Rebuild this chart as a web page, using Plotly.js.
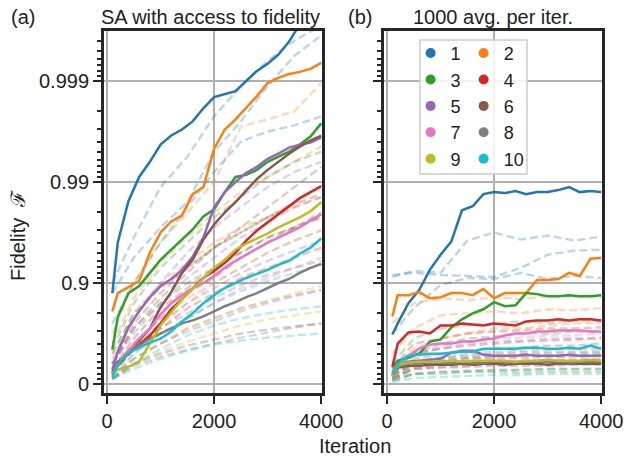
<!DOCTYPE html>
<html>
<head>
<meta charset="utf-8">
<script src="https://cdn.plot.ly/plotly-3.0.1.min.js"></script>
<style>html,body{margin:0;padding:0;background:#fff;}#chart{width:624px;height:459px;}</style>
</head>
<body>
<div id="chart"></div>
<script>
// y values are in "nines": -log10(1 - Fidelity)
const ITER = [100,200,400,600,800,1000,1200,1400,1600,1800,2000,2200,2400,2600,2800,3000,3200,3400,3600,3800,4000];
const ITER_D = [100,500,1000,1500,2000,2500,3000,3500,4000];
const LABELS = ['1','2','3','4','5','6','7','8','9','10'];
const COLORS = ['#1f77b4','#ff7f0e','#2ca02c','#d62728','#9467bd','#8c564b','#e377c2','#7f7f7f','#bcbd22','#17becf'];
const Y_TICKS = [0,1,2,3];
const Y_TICKTEXT = ['0','0.9','0.99','0.999'];
const X_TICKS = [0,2000,4000];

// Panel (a): SA with access to fidelity (best run per setting)
const A1 = [0.90,1.40,1.81,2.05,2.20,2.37,2.46,2.52,2.60,2.73,2.84,2.87,2.90,3.00,3.10,3.17,3.26,3.39,3.56,3.66,3.75];
const A2 = [0.72,0.90,0.96,1.02,1.30,1.50,1.61,1.67,1.88,1.95,2.33,2.52,2.62,2.73,2.85,2.98,3.03,3.07,3.09,3.12,3.18];
const A3 = [0.34,0.66,0.90,0.97,1.10,1.23,1.33,1.43,1.53,1.66,1.73,1.90,2.05,2.07,2.12,2.20,2.25,2.30,2.37,2.45,2.58];
const A4 = [0.12,0.22,0.30,0.39,0.48,0.60,0.74,0.84,0.95,1.05,1.12,1.20,1.30,1.42,1.52,1.60,1.68,1.76,1.84,1.90,1.96];
const A5 = [0.14,0.32,0.56,0.72,0.86,0.97,1.04,1.13,1.26,1.45,1.75,1.90,2.00,2.09,2.15,2.23,2.28,2.34,2.37,2.39,2.44];
const A6 = [0.11,0.20,0.33,0.43,0.55,0.76,0.91,1.10,1.23,1.43,1.58,1.70,1.80,1.92,2.03,2.12,2.20,2.28,2.35,2.41,2.46];
const A7 = [0.10,0.20,0.33,0.45,0.55,0.69,0.80,0.88,0.95,1.00,1.07,1.15,1.22,1.28,1.34,1.40,1.45,1.50,1.55,1.62,1.68];
const A8 = [0.10,0.18,0.30,0.38,0.45,0.50,0.55,0.60,0.63,0.67,0.72,0.77,0.81,0.86,0.90,0.95,1.00,1.04,1.10,1.15,1.19];
const A9 = [0.11,0.14,0.17,0.22,0.40,0.58,0.71,0.84,0.94,1.05,1.15,1.23,1.33,1.39,1.44,1.49,1.55,1.60,1.65,1.71,1.80];
const A10 = [0.07,0.20,0.31,0.36,0.41,0.45,0.52,0.62,0.70,0.80,0.88,0.95,1.00,1.05,1.09,1.13,1.18,1.22,1.29,1.35,1.44];

// Panel (a): other runs (dashed)
const AD1 = [[1.00,1.45,1.95,2.25,2.65,2.95,3.20,3.40,3.55],[0.90,1.25,1.55,1.80,2.30,2.60,2.95,3.25,3.45],[0.60,1.00,1.40,1.75,2.10,2.40,2.50,2.56,2.65]];
const AD2 = [[0.50,1.00,1.40,1.70,2.00,2.55,2.62,2.70,2.98],[0.40,0.85,1.20,1.45,1.70,1.90,2.05,2.20,2.35],[0.30,0.70,1.00,1.20,1.40,1.55,1.65,1.75,1.85]];
const AD3 = [[0.35,0.80,1.15,1.40,1.65,1.85,2.05,2.20,2.30],[0.30,0.70,0.95,1.15,1.35,1.50,1.65,1.80,1.95],[0.20,0.55,0.80,1.00,1.15,1.30,1.45,1.55,1.65]];
const AD4 = [[0.20,0.60,0.90,1.15,1.35,1.50,1.65,1.78,1.88],[0.15,0.45,0.75,0.95,1.15,1.30,1.45,1.55,1.65],[0.10,0.35,0.55,0.75,0.90,1.05,1.15,1.25,1.35]];
const AD5 = [[0.25,0.65,1.00,1.30,1.55,1.75,1.95,2.10,2.20],[0.20,0.50,0.80,1.05,1.25,1.45,1.60,1.75,1.85],[0.10,0.35,0.60,0.80,0.95,1.10,1.22,1.32,1.42]];
const AD6 = [[0.20,0.55,0.85,1.10,1.35,1.55,1.75,1.95,2.15],[0.10,0.40,0.65,0.90,1.05,1.25,1.40,1.55,1.70],[0.05,0.20,0.30,0.38,0.44,0.50,0.54,0.57,0.60]];
const AD7 = [[0.10,0.40,0.65,0.85,1.00,1.15,1.30,1.42,1.52],[0.05,0.30,0.50,0.65,0.80,0.95,1.05,1.15,1.25],[0.05,0.25,0.40,0.55,0.65,0.75,0.82,0.88,0.93]];
const AD8 = [[0.10,0.35,0.55,0.70,0.85,0.98,1.08,1.15,1.22],[0.05,0.25,0.40,0.52,0.62,0.72,0.80,0.87,0.93],[0.05,0.18,0.27,0.34,0.40,0.46,0.51,0.56,0.60]];
const AD9 = [[0.10,0.35,0.60,0.80,1.00,1.15,1.30,1.42,1.52],[0.05,0.25,0.40,0.55,0.65,0.75,0.82,0.90,0.97],[0.05,0.20,0.32,0.42,0.50,0.58,0.64,0.68,0.72]];
const AD10 = [[0.05,0.30,0.50,0.65,0.80,0.92,1.02,1.10,1.18],[0.05,0.20,0.35,0.48,0.58,0.65,0.70,0.74,0.77],[0.05,0.15,0.25,0.33,0.39,0.43,0.46,0.48,0.50]];

// Panel (b): 1000 avg. per iter. (best run per setting)
const B1 = [0.49,0.60,0.80,0.93,1.13,1.28,1.41,1.72,1.76,1.88,1.90,1.89,1.91,1.88,1.90,1.90,1.92,1.95,1.90,1.91,1.90];
const B2 = [0.67,0.88,0.88,0.91,0.85,0.86,0.90,0.90,0.88,0.94,0.85,0.90,0.90,0.90,1.03,1.03,1.04,1.10,1.07,1.24,1.25];
const B3 = [0.17,0.23,0.26,0.30,0.42,0.44,0.56,0.64,0.70,0.74,0.81,0.77,0.78,0.90,0.89,0.87,0.87,0.88,0.87,0.87,0.88];
const B4 = [0.17,0.40,0.51,0.52,0.50,0.58,0.58,0.60,0.59,0.58,0.60,0.59,0.58,0.62,0.63,0.63,0.64,0.63,0.64,0.64,0.63];
const B5 = [0.10,0.18,0.22,0.23,0.24,0.25,0.31,0.33,0.33,0.29,0.28,0.28,0.28,0.29,0.28,0.28,0.28,0.29,0.28,0.28,0.28];
const B6 = [0.08,0.16,0.18,0.18,0.19,0.19,0.19,0.20,0.19,0.20,0.20,0.19,0.20,0.20,0.20,0.19,0.20,0.20,0.20,0.20,0.20];
const B7 = [0.12,0.20,0.28,0.35,0.39,0.40,0.40,0.42,0.42,0.44,0.45,0.48,0.50,0.50,0.52,0.52,0.53,0.53,0.53,0.52,0.52];
const B8 = [0.08,0.17,0.20,0.21,0.21,0.21,0.21,0.22,0.21,0.21,0.22,0.22,0.21,0.22,0.22,0.22,0.22,0.21,0.22,0.22,0.22];
const B9 = [0.08,0.19,0.21,0.22,0.22,0.22,0.23,0.22,0.23,0.23,0.23,0.23,0.22,0.23,0.23,0.24,0.23,0.23,0.23,0.24,0.23];
const B10 = [0.10,0.20,0.28,0.29,0.30,0.30,0.31,0.32,0.32,0.35,0.35,0.35,0.35,0.36,0.36,0.35,0.35,0.36,0.35,0.38,0.35];

// Panel (b): other runs (dashed)
const BD1 = [[1.06,1.12,1.10,1.42,1.50,1.43,1.47,1.42,1.46],[1.08,1.10,1.08,1.07,1.06,1.15,1.28,1.32,1.33],[0.50,0.75,0.98,1.05,1.04,1.10,1.04,1.07,1.05]];
const BD2 = [[0.60,0.80,0.85,0.83,0.86,0.84,0.87,0.86,0.86],[0.30,0.55,0.68,0.70,0.72,0.70,0.74,0.73,0.75],[0.15,0.35,0.45,0.50,0.55,0.55,0.58,0.60,0.60]];
const BD3 = [[0.20,0.45,0.55,0.58,0.60,0.62,0.60,0.63,0.62],[0.15,0.30,0.40,0.45,0.47,0.50,0.50,0.52,0.52],[0.05,0.10,0.10,0.12,0.12,0.11,0.12,0.12,0.12]];
const BD4 = [[0.15,0.40,0.45,0.50,0.52,0.53,0.55,0.55,0.56],[0.10,0.30,0.35,0.38,0.40,0.42,0.43,0.44,0.45],[0.08,0.20,0.22,0.25,0.25,0.26,0.27,0.27,0.28]];
const BD5 = [[0.10,0.30,0.35,0.40,0.42,0.43,0.45,0.45,0.46],[0.08,0.22,0.26,0.30,0.32,0.33,0.34,0.35,0.35],[0.05,0.15,0.17,0.18,0.20,0.20,0.20,0.21,0.21]];
const BD6 = [[0.10,0.25,0.30,0.33,0.35,0.36,0.38,0.38,0.40],[0.05,0.18,0.20,0.22,0.22,0.23,0.24,0.24,0.25],[0.05,0.15,0.16,0.17,0.18,0.18,0.18,0.19,0.19]];
const BD7 = [[0.10,0.30,0.38,0.42,0.45,0.46,0.48,0.48,0.50],[0.08,0.22,0.26,0.28,0.30,0.31,0.32,0.32,0.33],[0.05,0.15,0.18,0.20,0.21,0.21,0.22,0.22,0.23]];
const BD8 = [[0.08,0.20,0.24,0.26,0.27,0.28,0.28,0.29,0.30],[0.05,0.16,0.19,0.20,0.21,0.21,0.22,0.22,0.22],[0.03,0.10,0.12,0.13,0.14,0.14,0.15,0.15,0.15]];
const BD9 = [[0.08,0.22,0.26,0.28,0.30,0.31,0.31,0.32,0.32],[0.05,0.17,0.20,0.21,0.22,0.22,0.23,0.23,0.24],[0.03,0.10,0.12,0.12,0.13,0.13,0.14,0.14,0.14]];
const BD10 = [[0.07,0.20,0.24,0.26,0.28,0.29,0.30,0.30,0.31],[0.04,0.10,0.12,0.13,0.14,0.14,0.15,0.15,0.15],[0.02,0.06,0.07,0.08,0.09,0.09,0.10,0.10,0.10]];

const SOLID_A = [A1,A2,A3,A4,A5,A6,A7,A8,A9,A10];
const DASH_A = [AD1,AD2,AD3,AD4,AD5,AD6,AD7,AD8,AD9,AD10];
const SOLID_B = [B1,B2,B3,B4,B5,B6,B7,B8,B9,B10];
const DASH_B = [BD1,BD2,BD3,BD4,BD5,BD6,BD7,BD8,BD9,BD10];

// minor ticks of the log-infidelity axis
const minorTicks = [];
for (let d = 0; d < 4; d++) {
  for (let k = 9; k >= 2; k--) {
    const v = d - Math.log10(k / 10);
    if (v < 3.5) minorTicks.push(v);
  }
}

const traces = [];
function addPanel(solids, dashes, xa, ya) {
  dashes.forEach((group, i) => {
    group.forEach(ys => {
      traces.push({x: ITER_D, y: ys, xaxis: xa, yaxis: ya, mode: 'lines', showlegend: false,
        hoverinfo: 'skip', opacity: 0.3,
        line: {color: COLORS[i], width: 2.4, dash: '8px,4px'}});
    });
  });
  solids.forEach((ys, i) => {
    traces.push({x: ITER, y: ys, xaxis: xa, yaxis: ya, mode: 'lines', showlegend: false,
      line: {color: COLORS[i], width: 2.5}});
  });
}
addPanel(SOLID_A, DASH_A, 'x', 'y');
addPanel(SOLID_B, DASH_B, 'x2', 'y2');

LABELS.forEach((lab, i) => {
  traces.push({x: [null], y: [null], xaxis: 'x2', yaxis: 'y2', mode: 'markers', name: lab,
    marker: {color: COLORS[i], size: 10}, showlegend: true,
    legend: (i % 2 === 0) ? 'legend' : 'legend2'});
});

const TXT = '#222';
const FONT = 'Liberation Sans, Arial, sans-serif';
function xax(domain) {
  return {domain: domain, range: [-56, 4015], tickvals: X_TICKS, ticktext: X_TICKS.map(String),
    showgrid: true, gridcolor: '#b0b0b0', gridwidth: 2.5, zeroline: false,
    showline: true, mirror: true, linecolor: '#262626', linewidth: 3,
    ticks: 'outside', ticklen: 8, tickwidth: 2.5, tickcolor: '#262626',
    tickfont: {size: 20, color: TXT, family: FONT}};
}
function yax(anchor, labels) {
  return {domain: [0.1431, 0.9325], range: [-0.092, 3.495], anchor: anchor,
    tickvals: Y_TICKS, ticktext: Y_TICKTEXT, showticklabels: labels,
    showgrid: true, gridcolor: '#b0b0b0', gridwidth: 2.5, zeroline: false,
    showline: true, mirror: true, linecolor: '#262626', linewidth: 3,
    ticks: 'outside', ticklen: 8, tickwidth: 2.5, tickcolor: '#262626',
    tickfont: {size: 20, color: TXT, family: FONT},
    minor: {tickmode: 'array', tickvals: minorTicks, ticks: 'outside', ticklen: 4.5, tickwidth: 2,
      tickcolor: '#262626', showgrid: false}};
}

const layout = {
  width: 624, height: 459,
  margin: {l: 0, r: 0, t: 0, b: 0},
  paper_bgcolor: '#fff', plot_bgcolor: '#fff',
  font: {family: FONT, color: TXT, size: 20},
  xaxis: xax([0.1667, 0.5160]),
  yaxis: yax('x', true),
  xaxis2: Object.assign(xax([0.6154, 0.9647]), {anchor: 'y2'}),
  yaxis2: yax('x2', false),
  legend: {x: 0.658, y: 0.924, xanchor: 'left', yanchor: 'top', bgcolor: 'rgba(0,0,0,0)',
    borderwidth: 0, font: {size: 18, color: TXT, family: FONT}},
  legend2: {x: 0.743, y: 0.924, xanchor: 'left', yanchor: 'top', bgcolor: 'rgba(0,0,0,0)',
    borderwidth: 0, font: {size: 18, color: TXT, family: FONT}},
  shapes: [{type: 'rect', xref: 'paper', yref: 'paper', x0: 0.673, x1: 0.8446, y0: 0.6209, y1: 0.9129,
    line: {color: '#cccccc', width: 1.5}, fillcolor: 'rgba(255,255,255,0.85)', layer: 'above'}],
  annotations: [
    {text: '(a)', xref: 'paper', yref: 'paper', x: 23/624, y: 1 - 17/459, showarrow: false, xanchor: 'center', yanchor: 'middle', font: {size: 20}},
    {text: 'SA with access to fidelity', xref: 'paper', yref: 'paper', x: 210/624, y: 1 - 17/459, showarrow: false, xanchor: 'center', yanchor: 'middle', font: {size: 20}},
    {text: '(b)', xref: 'paper', yref: 'paper', x: 360/624, y: 1 - 17/459, showarrow: false, xanchor: 'center', yanchor: 'middle', font: {size: 20}},
    {text: '1000 avg. per iter.', xref: 'paper', yref: 'paper', x: 493/624, y: 1 - 17/459, showarrow: false, xanchor: 'center', yanchor: 'middle', font: {size: 20}},
    {text: 'Iteration', xref: 'paper', yref: 'paper', x: 355/624, y: 1 - 446/459, showarrow: false, xanchor: 'center', yanchor: 'middle', font: {size: 20}},
    {text: 'Fidelity  ℱ', xref: 'paper', yref: 'paper', x: 18/624, y: 1 - 236/459, showarrow: false, textangle: -90, xanchor: 'center', yanchor: 'middle', font: {size: 20}}
  ]
};

Plotly.newPlot('chart', traces, layout, {displayModeBar: false, staticPlot: true});
</script>
</body>
</html>
